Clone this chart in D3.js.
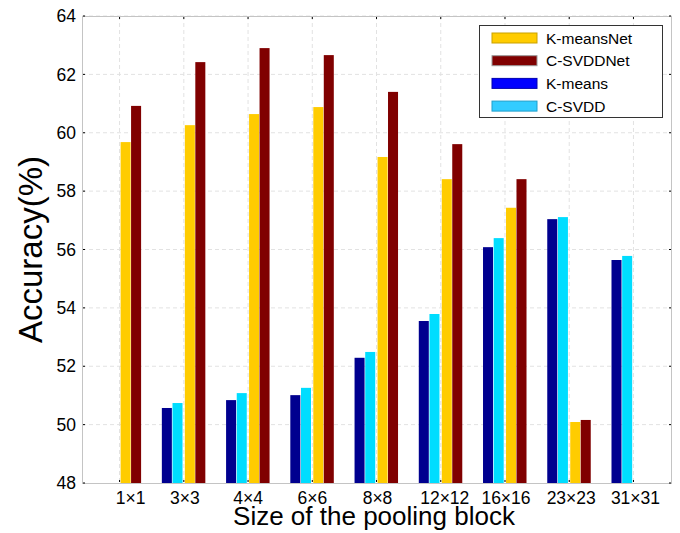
<!DOCTYPE html>
<html>
<head>
<meta charset="utf-8">
<script src="https://cdn.jsdelivr.net/npm/d3@7"></script>
<style>
  html, body { margin: 0; padding: 0; background: #fff; }
  svg { display: block; font-family: "Liberation Sans", Arial, sans-serif; }
</style>
</head>
<body>
<svg id="chart" width="680" height="533"></svg>
<script>
// Pooling block sizes along the x axis
const categories = ["1×1", "3×3", "4×4", "6×6", "8×8", "12×12", "16×16", "23×23", "31×31"];

// Accuracy (%) per method; null where a method has no result
const kmeans    = [null, 50.57, 50.84, 51.01, 52.29, 53.55, 56.08, 57.04, 55.64];
const csvdd     = [null, 50.74, 51.08, 51.26, 52.49, 53.79, 56.39, 57.11, 55.78];
const kmeansNet = [59.68, 60.26, 60.64, 60.88, 59.17, 58.41, 57.43, 50.09, null];
const csvddNet  = [60.92, 62.42, 62.90, 62.66, 61.40, 59.61, 58.41, 50.16, null];

const yTicks = [48, 50, 52, 54, 56, 58, 60, 62, 64];

const seriesNames = ["K-meansNet", "C-SVDDNet", "K-means", "C-SVDD"];

const svg = d3.select("#chart");

const plot = { left: 82, right: 672, top: 16, bottom: 483 };

const x = d3.scaleLinear().domain([0.415, 9.6]).range([plot.left, plot.right]);
const y = d3.scaleLinear().domain([48, 64]).range([plot.bottom, plot.top]);

// Bar layout inside each group (in category units)
const barW = 0.156;
const series = [
  { values: kmeans,    color: "#00008F", offset: -0.342 },
  { values: csvdd,     color: "#00DDFF", offset: -0.176 },
  { values: kmeansNet, color: "#FFCC00", offset:  0.016 },
  { values: csvddNet,  color: "#800000", offset:  0.179 }
];

// Grid lines
const grid = svg.append("g").attr("stroke", "#e2e2e2").attr("stroke-dasharray", "4,3").attr("stroke-width", 1);
grid.selectAll("line.h").data(yTicks.slice(1, -1)).join("line")
  .attr("x1", plot.left).attr("x2", plot.right)
  .attr("y1", d => y(d)).attr("y2", d => y(d));
grid.selectAll("line.v").data(categories).join("line")
  .attr("x1", (d, i) => x(i + 1)).attr("x2", (d, i) => x(i + 1))
  .attr("y1", plot.top).attr("y2", plot.bottom);
grid.append("line").attr("x1", plot.left).attr("x2", plot.right)
  .attr("y1", plot.top).attr("y2", plot.top);

// Bars
series.forEach(s => {
  svg.append("g").selectAll("rect")
    .data(s.values.map((v, i) => ({ v, i })).filter(d => d.v !== null))
    .join("rect")
    .attr("x", d => x(d.i + 1 + s.offset))
    .attr("width", x(1 + barW) - x(1))
    .attr("y", d => y(d.v))
    .attr("height", d => y(48) - y(d.v))
    .attr("fill", s.color);
});

// Axes box
svg.append("rect")
  .attr("x", plot.left + 0.5).attr("y", plot.top + 0.5)
  .attr("width", plot.right - plot.left - 1).attr("height", plot.bottom - plot.top)
  .attr("fill", "none").attr("stroke", "#c4c4c4").attr("stroke-width", 1);

// Small inside tick marks
const ticks = svg.append("g").attr("stroke", "#000").attr("stroke-width", 1);
yTicks.forEach(t => {
  ticks.append("line").attr("x1", plot.left + 1).attr("x2", plot.left + 3).attr("y1", y(t)).attr("y2", y(t));
  ticks.append("line").attr("x1", plot.right - 3).attr("x2", plot.right - 1).attr("y1", y(t)).attr("y2", y(t));
});
categories.forEach((c, i) => {
  ticks.append("line").attr("x1", x(i + 1)).attr("x2", x(i + 1)).attr("y1", plot.bottom - 3).attr("y2", plot.bottom - 1);
  ticks.append("line").attr("x1", x(i + 1)).attr("x2", x(i + 1)).attr("y1", plot.top + 1).attr("y2", plot.top + 3);
});

// Y tick labels
svg.append("g").selectAll("text").data(yTicks).join("text")
  .attr("x", plot.left - 6).attr("y", d => y(d)).attr("dy", "0.35em")
  .attr("text-anchor", "end").attr("font-size", 17.5).attr("fill", "#000")
  .text(d => d);

// X tick labels (first label sits a little to the right of its group)
const labelDx = [11, 1, 0, 0, 1, 4, 1, 2, 2];
svg.append("g").selectAll("text").data(categories).join("text")
  .attr("x", (d, i) => x(i + 1) + labelDx[i]).attr("y", 504)
  .attr("text-anchor", "middle").attr("font-size", 17.5).attr("fill", "#000")
  .text(d => d);

// Axis titles
svg.append("text")
  .attr("x", 374).attr("y", 525)
  .attr("text-anchor", "middle").attr("font-size", 26).attr("fill", "#000")
  .text("Size of the pooling block");
svg.append("text")
  .attr("transform", "translate(42," + ((plot.top + plot.bottom) / 2) + ") rotate(-90)")
  .attr("text-anchor", "middle").attr("font-size", 33).attr("fill", "#000")
  .text("Accuracy(%)");

// Legend
const legendColors = [
  { fill: "#FFCC00", stroke: "#C9A100" },
  { fill: "#800000", stroke: "#9a9a9a" },
  { fill: "#0000FF", stroke: "#0000B0" },
  { fill: "#33CCFF", stroke: "#1F9FCC" }
];
const legend = svg.append("g");
legend.append("rect")
  .attr("x", 479.5).attr("y", 25.5).attr("width", 183).attr("height", 92)
  .attr("fill", "#fff").attr("stroke", "#333").attr("stroke-width", 1);
seriesNames.forEach((name, i) => {
  const cy = 38 + i * 22.7;
  legend.append("rect")
    .attr("x", 492).attr("y", cy - 5).attr("width", 45).attr("height", 10)
    .attr("fill", legendColors[i].fill).attr("stroke", legendColors[i].stroke).attr("stroke-width", 1);
  legend.append("text")
    .attr("x", 546).attr("y", cy).attr("dy", "0.36em")
    .attr("font-size", 15.5).attr("fill", "#000")
    .text(name);
});
</script>
</body>
</html>
